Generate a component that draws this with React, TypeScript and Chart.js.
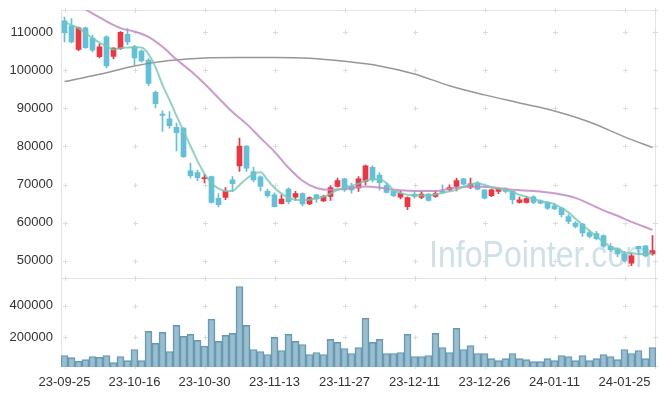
import React, { useEffect, useRef } from 'react';
import { Chart, registerables } from 'chart.js';

Chart.register(...registerables);

const dates = [
  '23-09-25','23-09-26','23-09-27','23-10-04','23-10-05','23-10-06','23-10-10','23-10-11','23-10-12','23-10-13',
  '23-10-16','23-10-17','23-10-18','23-10-19','23-10-20','23-10-23','23-10-24','23-10-25','23-10-26','23-10-27',
  '23-10-30','23-10-31','23-11-01','23-11-02','23-11-03','23-11-06','23-11-07','23-11-08','23-11-09','23-11-10',
  '23-11-13','23-11-14','23-11-15','23-11-16','23-11-17','23-11-20','23-11-21','23-11-22','23-11-23','23-11-24',
  '23-11-27','23-11-28','23-11-29','23-11-30','23-12-01','23-12-04','23-12-05','23-12-06','23-12-07','23-12-08',
  '23-12-11','23-12-12','23-12-13','23-12-14','23-12-15','23-12-18','23-12-19','23-12-20','23-12-21','23-12-22',
  '23-12-26','23-12-27','23-12-28','24-01-02','24-01-03','24-01-04','24-01-05','24-01-08','24-01-09','24-01-10',
  '24-01-11','24-01-12','24-01-15','24-01-16','24-01-17','24-01-18','24-01-19','24-01-22','24-01-23','24-01-24',
  '24-01-25','24-01-26','24-01-29','24-01-30','24-01-31',
];

const xTickLabels = ['23-09-25','23-10-16','23-10-30','23-11-13','23-11-27','23-12-11','23-12-26','24-01-11','24-01-25'];

const openPrices = [
  112900,111600,105400,111100,108400,103500,108700,103600,105600,109400,
  106100,105000,102600,94200,88500,87200,85000,84800,73600,73100,
  71500,72100,66400,66600,71200,74900,80100,73400,72000,68200,
  67300,65000,68800,66700,67600,64900,67300,65700,66900,69500,
  71500,69500,69100,70800,74500,72500,69700,68300,66700,64200,
  67500,66600,67500,66900,68200,68600,69500,71500,69300,70400,
  68600,67100,68200,68800,68200,65300,65300,66800,65700,65300,
  64400,63800,61600,59900,59600,57400,57100,56600,53800,53100,
  51800,49400,53800,53900,51800,
];
const highPrices = [
  113900,113500,111300,111300,109200,106900,109000,105900,110100,110900,
  106500,105300,103000,94500,89300,89100,86100,84900,75600,73800,
  72700,72200,67600,69200,72100,82200,80200,74600,72300,68800,
  67800,67300,69100,68200,67800,66800,67400,67200,69700,71700,
  71600,70400,72100,75100,74900,73100,70400,68600,68300,66800,
  68200,68200,67600,68400,69900,69900,71700,71600,71700,70800,
  68700,68800,69100,69100,68300,66700,66900,67000,66000,65500,
  65100,64000,62100,60300,59800,57900,57700,56800,54500,53300,
  52400,52000,53800,54000,56600,
];
const lowPrices = [
  107400,107100,105100,105700,104800,103200,100600,102900,105400,106700,
  101300,102100,95900,90100,83900,84800,78800,77100,71700,71000,
  70400,65100,64100,66000,68200,73400,73400,70700,68300,66700,
  64100,64900,64900,65800,64400,64700,65300,65500,65800,69300,
  68200,67700,68200,69900,70700,68600,67700,66800,66200,63400,
  66400,66300,65600,66600,67700,68300,68300,69900,68900,68600,
  66200,66800,67600,67800,64900,65100,65100,65000,64900,63400,
  63400,61500,59700,58600,56400,56000,55500,53500,52400,51100,
  49700,48700,51600,51000,51500,
];
const closePrices = [
  109800,107400,111100,105900,105200,106100,101100,105800,109900,107400,
  103200,102400,96500,91200,88100,85400,83600,77300,72300,71800,
  71800,65300,64700,68300,70200,80100,74300,71200,69500,67100,
  64200,66200,65500,67600,64900,66600,66200,66900,69200,71000,
  68600,68600,71500,74900,71200,70500,67900,67100,67700,66600,
  66900,67500,65800,67600,67900,69200,71000,70100,70200,68800,
  66400,68600,68900,68200,66000,66000,66300,65300,65100,63800,
  63600,62100,60300,59000,57300,56400,55800,53800,52900,51800,
  50100,51300,53200,51300,52700,
];

const volumes = [
  86100,73400,50000,60800,79800,75300,86100,41800,79800,54400,
  124100,54400,238000,162000,231600,111400,276000,206300,219000,181000,
  145000,314000,174700,212700,225300,520000,276000,124100,111400,92400,
  200000,117700,219000,174700,155700,92400,105100,92400,187300,168400,
  130400,98700,136700,320300,168400,187300,98700,98700,105100,219000,
  79800,79800,86100,225300,136700,105100,257000,124100,149400,98700,
  98700,67100,54400,67100,98700,67100,60800,48100,48100,67100,
  54400,86100,79800,54400,86100,54400,67100,92400,79800,60800,
  124100,98700,117700,67100,136700,
];

const ma5 = [
  112600,111800,111000,109700,108400,107200,106300,105400,105700,105900,
  106000,105900,104200,100800,96100,92200,88000,84100,80100,76200,
  72800,70400,68900,68300,68300,69900,71500,72800,73200,71200,
  69100,67600,66500,66000,65900,66000,66400,66800,67600,68600,
  69100,69700,70200,71000,71400,71400,70400,68600,67800,67300,
  67200,67100,67200,67400,67800,68200,68600,69400,70000,70300,
  69900,69300,68900,68600,68100,67300,66800,66200,65700,65300,
  64800,63900,62700,61000,59400,57900,56300,55000,53700,52900,
  52200,52000,51800,51800,52000,
];

// [index, value] readings of the longer moving averages
const ma20Points: [number, number][] = [
  [0,118900],[3,115900],[5,113800],[8,111000],[10,110100],[12,108700],[14,106100],[16,102800],
  [18,99800],[20,96400],[22,92700],[24,89000],[26,85900],[28,82200],[30,78600],[32,74400],
  [34,71000],[36,69100],[38,68600],[40,68800],[43,69500],[45,69200],[47,68600],[50,68300],
  [53,68300],[55,68900],[58,69500],[61,69300],[64,68600],[67,68300],[70,67700],[73,66500],
  [75,64900],[77,63200],[79,61800],[81,60200],[84,58100],
];
const ma120Points: [number, number][] = [
  [0,97000],[5,98900],[10,101100],[15,102500],[20,103200],[25,103300],[30,103300],[35,103100],
  [40,102300],[45,101100],[50,99000],[55,95900],[60,93500],[65,91400],[70,89300],[75,86400],
  [80,82500],[84,79700],
];

const priceTicks = [50000, 60000, 70000, 80000, 90000, 100000, 110000];
const volumeTicks = [200000, 400000];

const RED = '#ef3340';
const BLUE = '#62c0d8';
const FONT = '"Liberation Sans", Arial, sans-serif';

function sparse(points: [number, number][], n: number) {
  const arr: (number | null)[] = new Array(n).fill(null);
  points.forEach(([i, v]) => { arr[i] = v; });
  return arr;
}

const decorPlugin = {
  id: 'decor',
  beforeDatasetsDraw(chart: any) {
    const { ctx, chartArea } = chart;
    const xs = chart.scales.x;
    const ys = chart.scales.y;
    const yv = chart.scales.yv;
    ctx.save();
    // watermark
    ctx.font = `36px ${FONT}`;
    ctx.fillStyle = 'rgba(165,198,214,0.55)';
    ctx.textBaseline = 'alphabetic';
    ctx.textAlign = 'left';
    ctx.fillText('InfoPointer.com', chartArea.right - 227, 267, 223);

    // frames
    const L = Math.round(chartArea.left) + 0.5;
    const R = Math.round(chartArea.right) - 0.5;
    const T = Math.round(ys.top) + 0.5;
    const M = Math.round(yv.top) + 0.5;
    const B = Math.round(yv.bottom) - 0.5;
    ctx.strokeStyle = '#e4e4e4';
    ctx.lineWidth = 1;
    ctx.strokeRect(L, T, R - L, M - T);
    ctx.strokeRect(L, M, R - L, B - M);

    // cross marks at grid intersections
    const xPos: number[] = [];
    dates.forEach((d, i) => { if (xTickLabels.includes(d)) xPos.push(Math.round(xs.getPixelForValue(i)) + 0.5); });
    xPos.push(R);
    const yPos: number[] = [];
    priceTicks.forEach(v => yPos.push(Math.round(ys.getPixelForValue(v)) + 0.5));
    volumeTicks.forEach(v => yPos.push(Math.round(yv.getPixelForValue(v)) + 0.5));
    yPos.push(M, T, B);
    ctx.strokeStyle = '#dcdcdc';
    ctx.beginPath();
    xPos.forEach(x => {
      yPos.forEach(y => {
        ctx.moveTo(x - 2.5, y); ctx.lineTo(x + 2.5, y);
        ctx.moveTo(x, y - 2.5); ctx.lineTo(x, y + 2.5);
      });
    });
    ctx.stroke();
    ctx.restore();
  },
};

const fitY = (s: any) => { s.width = 61; s.paddingTop = 0; s.paddingBottom = 0; };

export default function App() {
  const ref = useRef<HTMLCanvasElement | null>(null);
  useEffect(() => {
    if (!ref.current) return;
    const n = dates.length;
    const candleColors = closePrices.map((c, i) => (c >= openPrices[i] ? RED : BLUE));
    const chart = new Chart(ref.current, {
      type: 'bar',
      data: {
        labels: dates,
        datasets: [
          {
            type: 'line', label: 'MA5', data: ma5 as any, yAxisID: 'y', order: 0,
            borderColor: 'rgba(118,200,180,0.8)', borderWidth: 2, pointRadius: 0,
            cubicInterpolationMode: 'monotone', spanGaps: true,
          },
          {
            type: 'line', label: 'MA20', data: sparse(ma20Points, n) as any, yAxisID: 'y', order: 0,
            borderColor: 'rgba(196,136,196,0.85)', borderWidth: 2, pointRadius: 0,
            cubicInterpolationMode: 'monotone', spanGaps: true,
          },
          {
            type: 'line', label: 'MA120', data: sparse(ma120Points, n) as any, yAxisID: 'y', order: 0,
            borderColor: 'rgba(140,140,140,0.9)', borderWidth: 1.5, pointRadius: 0,
            cubicInterpolationMode: 'monotone', spanGaps: true,
          },
          {
            type: 'bar', label: 'body', data: openPrices.map((o, i) => [o, closePrices[i]]) as any,
            yAxisID: 'y', order: 1, grouped: false, barThickness: 5,
            backgroundColor: candleColors, borderWidth: 0,
          },
          {
            type: 'bar', label: 'wick', data: lowPrices.map((l, i) => [l, highPrices[i]]) as any,
            yAxisID: 'y', order: 2, grouped: false, barThickness: 1,
            backgroundColor: candleColors, borderWidth: 0,
          },
          {
            type: 'bar', label: 'volume', data: volumes, yAxisID: 'yv', order: 3, grouped: false,
            barPercentage: 1, categoryPercentage: 1,
            backgroundColor: 'rgba(120,168,192,0.75)', borderColor: 'rgba(92,146,172,0.95)', borderWidth: 1,
          },
        ],
      },
      options: {
        animation: false,
        responsive: false,
        devicePixelRatio: 1,
        layout: { padding: { left: 0, right: 9, top: 10, bottom: 0 } },
        plugins: { legend: { display: false }, tooltip: { enabled: false } },
        scales: {
          x: {
            type: 'category', offset: true,
            grid: { display: false, drawTicks: false }, border: { display: false },
            ticks: {
              autoSkip: false, maxRotation: 0, minRotation: 0, padding: 8, color: '#333',
              font: { size: 13, family: FONT },
              callback: (_v: any, i: number) => (xTickLabels.includes(dates[i]) ? dates[i] : null),
            },
            afterFit: (s: any) => { s.height = 29; s.paddingLeft = 0; s.paddingRight = 0; },
          },
          y: {
            type: 'linear', position: 'left', stack: 'pane', stackWeight: 3, weight: 2,
            min: 45550, max: 115760,
            grid: { display: false, drawTicks: false }, border: { display: false },
            afterBuildTicks: (s: any) => { s.ticks = priceTicks.map(v => ({ value: v })); },
            ticks: { padding: 8, color: '#333', font: { size: 13, family: FONT }, callback: (v: any) => String(v) },
            afterFit: fitY,
          },
          yv: {
            type: 'linear', position: 'left', stack: 'pane', stackWeight: 1, weight: 1,
            min: 14000, max: 575000,
            grid: { display: false, drawTicks: false }, border: { display: false },
            afterBuildTicks: (s: any) => { s.ticks = volumeTicks.map(v => ({ value: v })); },
            ticks: { padding: 8, color: '#333', font: { size: 13, family: FONT }, callback: (v: any) => String(v) },
            afterFit: fitY,
          },
        },
      } as any,
      plugins: [decorPlugin],
    });
    return () => chart.destroy();
  }, []);
  return (
    <div style={{ position: 'fixed', left: 0, top: 0, width: 665, height: 396, background: '#fff' }}>
      <canvas ref={ref} width={665} height={396} style={{ display: 'block' }} />
    </div>
  );
}
